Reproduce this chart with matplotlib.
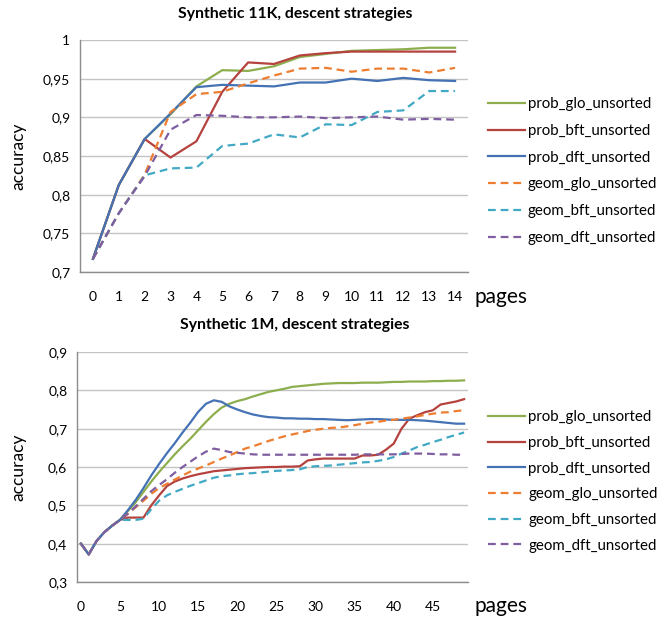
import matplotlib
matplotlib.use('Agg')
import matplotlib.pyplot as plt
import numpy as np

plt.rcParams['font.family'] = ['Lato', 'DejaVu Sans']

# series names, shared by both panels
series = ['prob_glo_unsorted', 'prob_bft_unsorted', 'prob_dft_unsorted',
          'geom_glo_unsorted', 'geom_bft_unsorted', 'geom_dft_unsorted']

# Synthetic 11K, pages 0..14
pages_11k = list(range(15))
prob_glo_11k = [0.717, 0.8125, 0.872, 0.904, 0.940, 0.961, 0.960, 0.966, 0.978,
                0.982, 0.986, 0.987, 0.988, 0.990, 0.990]
prob_bft_11k = [0.717, 0.8125, 0.872, 0.848, 0.869, 0.933, 0.971, 0.969, 0.980,
                0.983, 0.985, 0.985, 0.985, 0.985, 0.985]
prob_dft_11k = [0.717, 0.8125, 0.872, 0.905, 0.939, 0.942, 0.941, 0.940, 0.945,
                0.945, 0.950, 0.947, 0.951, 0.948, 0.947]
geom_glo_11k = [0.717, 0.776, 0.826, 0.907, 0.930, 0.933, 0.944, 0.954, 0.963,
                0.964, 0.959, 0.963, 0.963, 0.958, 0.964]
geom_bft_11k = [0.717, 0.776, 0.825, 0.834, 0.835, 0.863, 0.866, 0.878, 0.874,
                0.891, 0.890, 0.907, 0.909, 0.934, 0.934]
geom_dft_11k = [0.717, 0.776, 0.824, 0.884, 0.903, 0.902, 0.900, 0.900, 0.901,
                0.899, 0.900, 0.901, 0.897, 0.898, 0.897]

# Synthetic 1M, pages 0..49
pages_1m = list(range(50))
prob_glo_1m = [0.400, 0.372, 0.407, 0.430, 0.447, 0.462, 0.485, 0.508, 0.535, 0.562,
               0.587, 0.610, 0.633, 0.654, 0.674, 0.696, 0.718, 0.738, 0.755, 0.765,
               0.772, 0.777, 0.784, 0.790, 0.796, 0.800, 0.804, 0.809, 0.811, 0.813,
               0.815, 0.817, 0.818, 0.819, 0.819, 0.819, 0.820, 0.820, 0.820, 0.821,
               0.822, 0.822, 0.823, 0.823, 0.823, 0.824, 0.824, 0.825, 0.825, 0.826]
prob_bft_1m = [0.400, 0.372, 0.407, 0.430, 0.447, 0.462, 0.468, 0.468, 0.468, 0.500,
               0.526, 0.550, 0.562, 0.570, 0.576, 0.581, 0.585, 0.589, 0.591, 0.593,
               0.595, 0.597, 0.598, 0.599, 0.600, 0.600, 0.601, 0.601, 0.602, 0.617,
               0.620, 0.622, 0.622, 0.622, 0.622, 0.622, 0.630, 0.630, 0.632, 0.645,
               0.661, 0.700, 0.726, 0.735, 0.743, 0.748, 0.763, 0.767, 0.771, 0.777]
prob_dft_1m = [0.400, 0.372, 0.407, 0.430, 0.447, 0.462, 0.487, 0.514, 0.545, 0.578,
               0.608, 0.636, 0.662, 0.690, 0.716, 0.744, 0.765, 0.774, 0.770, 0.758,
               0.750, 0.743, 0.737, 0.733, 0.730, 0.729, 0.727, 0.727, 0.726, 0.726,
               0.725, 0.725, 0.724, 0.723, 0.722, 0.723, 0.724, 0.725, 0.725, 0.724,
               0.723, 0.723, 0.723, 0.722, 0.721, 0.719, 0.717, 0.715, 0.713, 0.713]
geom_glo_1m = [0.400, 0.372, 0.407, 0.430, 0.447, 0.462, 0.478, 0.495, 0.512, 0.530,
               0.545, 0.556, 0.567, 0.578, 0.588, 0.596, 0.604, 0.613, 0.622, 0.630,
               0.639, 0.648, 0.654, 0.661, 0.668, 0.674, 0.680, 0.685, 0.689, 0.694,
               0.697, 0.700, 0.702, 0.703, 0.706, 0.709, 0.713, 0.716, 0.718, 0.721,
               0.723, 0.726, 0.729, 0.732, 0.736, 0.739, 0.742, 0.743, 0.746, 0.748]
geom_bft_1m = [0.400, 0.372, 0.407, 0.430, 0.447, 0.462, 0.462, 0.462, 0.465, 0.490,
               0.512, 0.526, 0.535, 0.543, 0.551, 0.558, 0.565, 0.572, 0.576, 0.578,
               0.581, 0.583, 0.584, 0.586, 0.588, 0.590, 0.591, 0.592, 0.594, 0.600,
               0.602, 0.603, 0.604, 0.606, 0.608, 0.610, 0.612, 0.613, 0.616, 0.620,
               0.626, 0.635, 0.643, 0.652, 0.658, 0.665, 0.671, 0.678, 0.684, 0.690]
geom_dft_1m = [0.400, 0.372, 0.407, 0.430, 0.447, 0.462, 0.478, 0.497, 0.517, 0.537,
               0.553, 0.568, 0.585, 0.600, 0.614, 0.628, 0.640, 0.648, 0.644, 0.639,
               0.637, 0.635, 0.633, 0.632, 0.632, 0.632, 0.632, 0.632, 0.632, 0.632,
               0.632, 0.632, 0.632, 0.632, 0.632, 0.632, 0.633, 0.633, 0.633, 0.633,
               0.633, 0.634, 0.635, 0.635, 0.635, 0.634, 0.633, 0.633, 0.632, 0.632]

colors = ['#8DAE4E', '#B5423E', '#4472B4', '#ED7D31', '#42A9C4', '#7E5EA0']
styles = ['-', '-', '-', (0, (3.5, 2.2)), (0, (3.5, 2.2)), (0, (3.5, 2.2))]

yticks_11k = [0.7, 0.75, 0.8, 0.85, 0.9, 0.95, 1.0]
ylabels_11k = ['0,7', '0,75', '0,8', '0,85', '0,9', '0,95', '1']
yticks_1m = [0.3, 0.4, 0.5, 0.6, 0.7, 0.8, 0.9]
ylabels_1m = ['0,3', '0,4', '0,5', '0,6', '0,7', '0,8', '0,9']


def style_axes(ax):
    for side in ['top', 'right']:
        ax.spines[side].set_visible(False)
    for side in ['left', 'bottom']:
        ax.spines[side].set_color('#8C8C8C')
        ax.spines[side].set_linewidth(1.0)
    ax.grid(axis='y', color='#C4C4C4', linewidth=1.0)
    ax.set_axisbelow(True)
    ax.tick_params(length=0, labelsize=10, colors='#000000')
    ax.tick_params(axis='x', pad=14)
    ax.tick_params(axis='y', pad=7)


def draw_panel(ax, x, ys, yticks, ylabels, xticks, legend_y, spacing):
    for y, name, c, ls in zip(ys, series, colors, styles):
        ax.plot(x, y, color=c, linestyle=ls, linewidth=1.6, label=name)
    ax.set_xlim(-0.5, len(x) - 0.5)
    ax.set_ylim(yticks[0], yticks[-1])
    ax.set_yticks(yticks)
    ax.set_yticklabels(ylabels)
    ax.set_xticks(xticks)
    ax.set_xticklabels([str(t) for t in xticks])
    style_axes(ax)
    ax.legend(loc='center left', bbox_to_anchor=(1.052, legend_y), frameon=False,
              fontsize=10.8, handlelength=2.45, handletextpad=0.2,
              labelspacing=spacing, borderaxespad=0, borderpad=0)


fig = plt.figure(figsize=(6.58, 6.2), dpi=100)

ax1 = fig.add_axes([80 / 658, 1 - 272 / 620, 388 / 658, 232 / 620])
draw_panel(ax1, pages_11k,
           [prob_glo_11k, prob_bft_11k, prob_dft_11k,
            geom_glo_11k, geom_bft_11k, geom_dft_11k],
           yticks_11k, ylabels_11k, pages_11k, 0.435, 0.85)

ax2 = fig.add_axes([77 / 658, 1 - 582 / 620, 391 / 658, 230 / 620])
draw_panel(ax2, pages_1m,
           [prob_glo_1m, prob_bft_1m, prob_dft_1m,
            geom_glo_1m, geom_bft_1m, geom_dft_1m],
           yticks_1m, ylabels_1m, list(range(0, 50, 5)), 0.437, 0.78)

fig.text(295 / 658, 1 - 14 / 620, 'Synthetic 11K, descent strategies',
         ha='center', va='center', fontsize=11.3, fontweight='bold')
fig.text(295 / 658, 1 - 325 / 620, 'Synthetic 1M, descent strategies',
         ha='center', va='center', fontsize=11.3, fontweight='bold')

fig.text(18 / 658, 1 - 156 / 620, 'accuracy', rotation=90,
         ha='center', va='center', fontsize=12.5)
fig.text(18 / 658, 1 - 467 / 620, 'accuracy', rotation=90,
         ha='center', va='center', fontsize=12.5)

fig.text(475 / 658, 1 - 297 / 620, 'pages', ha='left', va='center', fontsize=15)
fig.text(475 / 658, 1 - 606 / 620, 'pages', ha='left', va='center', fontsize=15)

fig.savefig('out.png', dpi=100)
